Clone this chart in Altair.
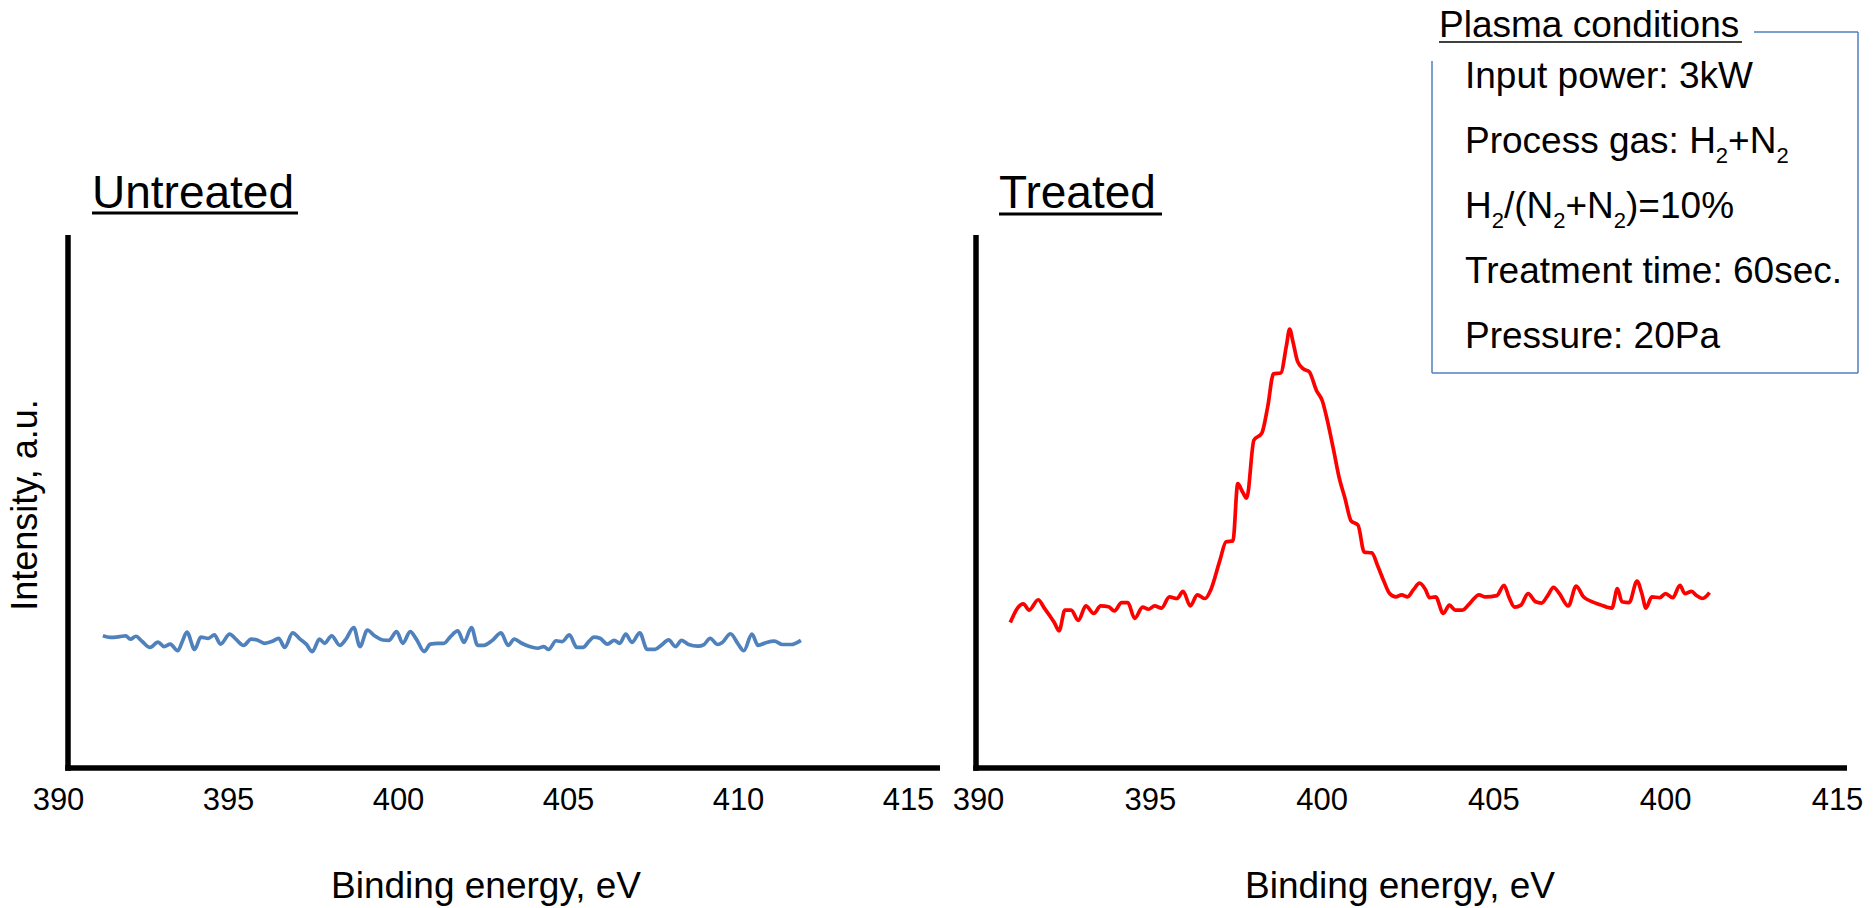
import re

import altair as alt
import pandas as pd

# XPS N1s spectra: binding energy (eV) and intensity (a.u.)
untreated_energy = [
    391.32, 391.54, 391.81, 391.99, 392.13, 392.29, 392.47, 392.71, 392.94, 393.12,
    393.30, 393.52, 393.66, 393.79, 394.02, 394.20, 394.42, 394.60, 394.78, 395.05,
    395.23, 395.46, 395.68, 395.86, 396.07, 396.31, 396.49, 396.67, 396.90, 397.12,
    397.30, 397.48, 397.69, 397.84, 398.05, 398.29, 398.47, 398.70, 398.88, 399.10,
    399.31, 399.55, 399.73, 399.96, 400.14, 400.36, 400.54, 400.77, 400.95, 401.17,
    401.35, 401.53, 401.76, 401.94, 402.16, 402.34, 402.52, 402.79, 403.03, 403.24,
    403.42, 403.64, 403.87, 404.11, 404.29, 404.43, 404.65, 404.83, 405.04, 405.26,
    405.44, 405.62, 405.76, 405.94, 406.16, 406.36, 406.52, 406.70, 406.88, 407.11,
    407.33, 407.56, 407.74, 407.96, 408.16, 408.34, 408.55, 408.82, 409.00, 409.18,
    409.40, 409.54, 409.78, 409.99, 410.17, 410.41, 410.59, 410.84, 411.07, 411.31,
    411.56, 411.85,
]
untreated_intensity = [
    24.80, 24.49, 24.64, 24.80, 24.18, 24.72, 23.79, 22.62, 23.63, 22.78,
    23.24, 22.00, 23.79, 25.50, 22.24, 24.57, 24.33, 24.96, 23.24, 25.11,
    24.18, 23.01, 24.18, 24.02, 23.40, 23.79, 24.33, 22.62, 25.35, 24.18,
    23.24, 21.85, 24.18, 23.40, 24.80, 23.01, 24.18, 26.36, 22.78, 25.89,
    24.80, 24.02, 23.95, 25.58, 23.40, 25.58, 24.18, 21.85, 23.24, 23.40,
    23.40, 24.57, 25.73, 23.56, 26.36, 23.01, 23.01, 24.02, 25.35, 23.01,
    24.18, 23.40, 22.78, 22.47, 22.78, 22.24, 23.87, 23.71, 24.96, 22.62,
    22.62, 23.79, 24.57, 24.33, 23.24, 23.95, 23.40, 25.11, 23.56, 25.35,
    22.24, 22.24, 23.01, 24.02, 22.78, 23.95, 23.17, 22.86, 23.17, 24.33,
    23.17, 23.56, 25.19, 23.40, 22.00, 25.11, 23.01, 23.56, 23.79, 23.17,
    23.17, 23.95,
]
treated_energy = [
    390.94, 391.15, 391.32, 391.49, 391.75, 391.93, 392.10, 392.22, 392.36, 392.53,
    392.71, 392.92, 393.14, 393.37, 393.57, 393.80, 393.97, 394.18, 394.36, 394.56,
    394.79, 394.96, 395.14, 395.34, 395.57, 395.79, 395.97, 396.18, 396.38, 396.61,
    396.78, 397.04, 397.22, 397.42, 397.56, 397.70, 397.82, 398.03, 398.26, 398.43,
    398.60, 398.81, 398.98, 399.07, 399.16, 399.30, 399.47, 399.64, 399.85, 400.02,
    400.16, 400.34, 400.51, 400.68, 400.86, 401.06, 401.24, 401.46, 401.64, 401.81,
    401.98, 402.16, 402.33, 402.50, 402.68, 402.85, 403.02, 403.14, 403.32, 403.54,
    403.72, 403.89, 404.10, 404.32, 404.58, 404.76, 405.10, 405.31, 405.45, 405.62,
    405.80, 406.01, 406.23, 406.40, 406.58, 406.75, 406.92, 407.18, 407.41, 407.62,
    407.88, 408.14, 408.31, 408.45, 408.61, 408.74, 408.95, 409.18, 409.32, 409.44,
    409.61, 409.84, 410.01, 410.22, 410.43, 410.57, 410.77, 410.91, 411.09, 411.29,
]
treated_intensity = [
    27.29, 30.01, 30.79, 29.62, 31.57, 30.01, 28.46, 27.29, 25.73, 29.62,
    29.62, 27.68, 30.40, 29.00, 30.40, 30.25, 29.47, 31.02, 31.02, 28.07,
    30.17, 29.78, 30.40, 30.01, 32.11, 31.80, 33.12, 30.40, 32.50, 31.80,
    33.51, 38.96, 42.45, 42.61, 53.34, 51.79, 50.62, 61.51, 62.83, 67.73,
    73.95, 74.11, 79.40, 82.35, 80.17, 76.29, 74.89, 74.34, 70.84, 68.90,
    65.40, 59.95, 54.51, 50.62, 46.34, 45.57, 40.51, 40.36, 37.79, 35.07,
    32.73, 32.11, 32.50, 32.11, 33.51, 34.68, 33.51, 31.95, 32.11, 29.00,
    30.56, 29.62, 29.62, 30.95, 32.50, 32.11, 32.35, 34.29, 32.11, 30.17,
    30.56, 32.73, 31.18, 30.95, 32.35, 33.90, 32.73, 30.40, 34.13, 32.11,
    31.18, 30.56, 30.17, 30.01, 33.67, 31.18, 31.02, 35.07, 32.73, 30.01,
    32.11, 31.95, 32.73, 31.95, 34.29, 32.73, 33.12, 32.35, 31.80, 32.89,
]

tick_values = [390, 395, 400, 405, 410, 415]
left_tick_labels = ["390", "395", "400", "405", "410", "415"]
right_tick_labels = ["390", "395", "400", "405", "400", "415"]

panel_titles = ["Untreated", "Treated"]
x_title = "Binding energy, eV"
y_title = "Intensity, a.u."
conditions_heading = "Plasma conditions"
# "_2" marks a subscript digit
conditions = [
    "Input power: 3kW",
    "Process gas: H_2+N_2",
    "H_2/(N_2+N_2)=10%",
    "Treatment time: 60sec.",
    "Pressure: 20Pa",
]

FONT = "Liberation Sans"
W, H = 1874, 908
PLOT_TOP, PLOT_BOTTOM = 235, 768
LEFT_RANGE = [58, 908]      # pixel span of 390..415 in the left panel
RIGHT_RANGE = [978, 1837]   # pixel span of 390..415 in the right panel
BLUE = "#4F81BD"
RED = "#FF0000"
AXIS_W = 5.5
BOX_FONT = 37
SUB_FONT = 22
SUB_DROP = 10

# advance widths (per 1000 em) of Liberation Sans, used to place subscripts
ADVANCE = {
    " ": 278, ":": 278, "/": 278, "(": 333, ")": 333, "+": 584, "=": 584,
    "%": 889, ".": 278, "H": 722, "N": 722, "P": 667, "a": 556, "c": 500,
    "e": 556, "g": 556, "o": 556, "r": 333, "s": 500,
}


def advance(s, size):
    return sum(ADVANCE.get(c, 556) for c in s) / 1000 * size


y_scale = alt.Scale(domain=[0, 100], range=[PLOT_BOTTOM, PLOT_TOP], nice=False, zero=False)


def single():
    return alt.Data(values=[{}])


def text(s, x, y, size, align="left", baseline="alphabetic", angle=0):
    return alt.Chart(single()).mark_text(
        text=s, font=FONT, fontSize=size, color="black",
        align=align, baseline=baseline, angle=angle,
    ).encode(x=alt.value(x), y=alt.value(y))


def rich_text(s, x, y):
    """Text with '_d' subscripts, drawn as consecutive runs."""
    out = []
    for i, part in enumerate(re.split(r"_(\d)", s)):
        if not part:
            continue
        if i % 2:  # subscript digit
            out.append(text(part, x, y + SUB_DROP, SUB_FONT))
            x += advance(part, SUB_FONT)
        else:
            out.append(text(part, x, y, BOX_FONT))
            x += advance(part, BOX_FONT)
    return out


def rule(x, x2, y, y2, color="black", width=1.5):
    return alt.Chart(single()).mark_rule(color=color, strokeWidth=width).encode(
        x=alt.value(x), x2=alt.value(x2), y=alt.value(y), y2=alt.value(y2)
    )


def label_expr(labels):
    arr = "[" + ",".join(f"'{s}'" for s in labels) + "]"
    vals = "[" + ",".join(str(v) for v in tick_values) + "]"
    return f"{arr}[indexof({vals}, datum.value)]"


def spectrum(energy, intensity, color, px_range, labels):
    df = pd.DataFrame({"energy": energy, "intensity": intensity})
    return alt.Chart(df).mark_line(
        color=color, strokeWidth=3.7, interpolate="monotone"
    ).encode(
        x=alt.X(
            "energy:Q",
            scale=alt.Scale(domain=[390, 415], range=px_range, nice=False, zero=False),
            axis=alt.Axis(
                orient="bottom", offset=PLOT_BOTTOM - H,
                values=tick_values, labelExpr=label_expr(labels), title=None,
                ticks=False, tickSize=0, grid=False, domain=False,
                labelFont=FONT, labelFontSize=31, labelColor="black",
                labelPadding=17, labelFlush=False, labelOverlap=False,
            ),
        ),
        y=alt.Y("intensity:Q", scale=y_scale, axis=None),
    )


layers = [
    spectrum(untreated_energy, untreated_intensity, BLUE, LEFT_RANGE, left_tick_labels),
    spectrum(treated_energy, treated_intensity, RED, RIGHT_RANGE, right_tick_labels),
    # axis lines of both panels
    rule(68, 68, PLOT_TOP, PLOT_BOTTOM + 2.75, width=AXIS_W),
    rule(65.25, 940, PLOT_BOTTOM, PLOT_BOTTOM, width=AXIS_W),
    rule(976, 976, PLOT_TOP, PLOT_BOTTOM + 2.75, width=AXIS_W),
    rule(973.25, 1847, PLOT_BOTTOM, PLOT_BOTTOM, width=AXIS_W),
    # panel titles and axis titles
    text(panel_titles[0], 92, 208, 46),
    rule(92, 298, 213, 213, width=3),
    text(panel_titles[1], 999, 208, 46),
    rule(999, 1162, 214, 214, width=3),
    text(y_title, 26, 505, 36, align="center", baseline="middle", angle=270),
    text(x_title, 486, 898, 37, align="center"),
    text(x_title, 1400, 898, 37, align="center"),
    # plasma conditions panel
    text(conditions_heading, 1439, 37, 37),
    rule(1439, 1742, 42, 42, width=1.5),
    rule(1432, 1432, 61, 373, color=BLUE),
    rule(1432, 1858, 373, 373, color=BLUE),
    rule(1858, 1858, 32, 373, color=BLUE),
    rule(1754, 1858, 32, 32, color=BLUE),
]
for i, line in enumerate(conditions):
    layers.extend(rich_text(line, 1465, 88 + i * 65))

chart = alt.layer(*layers).resolve_scale(x="independent").resolve_axis(
    x="independent"
).properties(
    width=W, height=H, padding=0,
    autosize=alt.AutoSizeParams(type="none"),
    background="white",
).configure_view(stroke=None)

chart.save("out.html", embed_options={"renderer": "svg", "actions": False})
